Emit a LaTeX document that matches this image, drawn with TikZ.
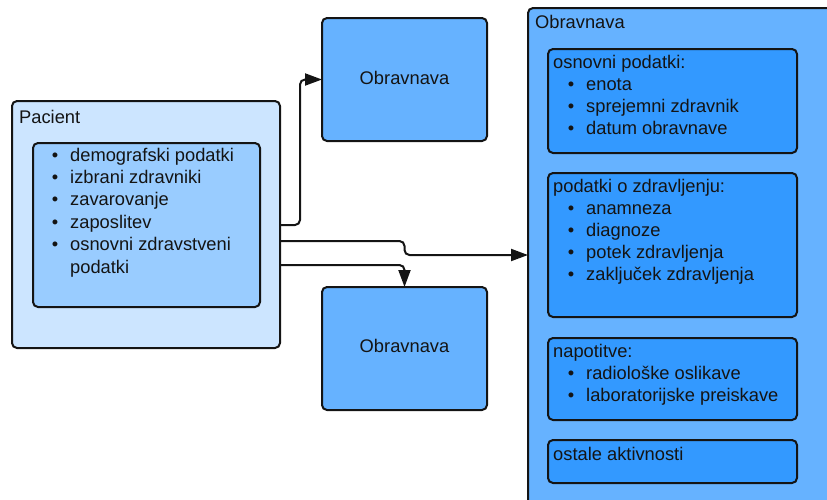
\documentclass[tikz,border=0pt]{standalone}
\usepackage{fontspec}
\setmainfont{Liberation Sans}
\usetikzlibrary{arrows.meta,calc}
\definecolor{paleblue}{HTML}{CCE5FF}
\definecolor{lightblue}{HTML}{99CCFF}
\definecolor{midblue}{HTML}{66B2FF}
\definecolor{deepblue}{HTML}{3399FF}
\definecolor{edge}{HTML}{141414}
\begin{document}
\begin{tikzpicture}[x=1pt,y=-1pt,
  box/.style={draw=edge, line width=2pt, rounded corners=5pt, anchor=north west,
    inner sep=0pt, outer sep=0pt},
  txt/.style={anchor=base west, inner sep=0pt, text=edge,
    font=\fontsize{18.3}{22}\selectfont},
  bul/.style={txt, anchor=base},
  conn/.style={draw=edge, line width=2pt, rounded corners=5pt,
    -{Triangle[length=17pt,width=12pt]}}
]
\useasboundingbox (0,0) rectangle (827,499);
\clip (0,0) rectangle (827,499);

% Pacient
\node[box, fill=paleblue, minimum width=268pt, minimum height=247pt] (pacient) at (12,101) {};
\node[txt] (lpac) at (19,123) {Pacient};
\node[box, fill=lightblue, minimum width=227pt, minimum height=164pt] (pdata) at (33,143) {};
\foreach \t [count=\i] in {demografski podatki, izbrani zdravniki, zavarovanje,
    zaposlitev, osnovni zdravstveni}{
  \node[bul] (pb\i) at (55,161+22.4*\i-22.4) {\textbullet};
  \node[txt] (pt\i) at (70,161+22.4*\i-22.4) {\t};
}
\node[txt] (pt6) at (70,273) {podatki};

% Two single treatments
\node[box, fill=midblue, minimum width=165pt, minimum height=123pt] (obtop) at (322,18) {};
\node[txt, anchor=base] (lobtop) at (404.5,84) {Obravnava};
\node[box, fill=midblue, minimum width=165pt, minimum height=123pt] (obbot) at (322,287) {};
\node[txt, anchor=base] (lobbot) at (404.5,352.5) {Obravnava};

% Detailed treatment
\node[box, fill=midblue, minimum width=330pt, minimum height=520pt] (obr) at (528,8) {};
\node[txt] (lobr) at (535,28) {Obravnava};

\node[box, fill=deepblue, minimum width=249pt, minimum height=104pt] (basic) at (548,49) {};
\node[txt] (hbasic) at (553,68) {osnovni podatki:};
\foreach \t [count=\i] in {enota, sprejemni zdravnik, datum obravnave}{
  \node[bul] (bb\i) at (571,68+22.2*\i) {\textbullet};
  \node[txt] (bt\i) at (586,68+22.2*\i) {\t};
}

\node[box, fill=deepblue, minimum width=249pt, minimum height=144pt] (health) at (548,173) {};
\node[txt] (hhealth) at (553,192) {podatki o zdravljenju:};
\foreach \t [count=\i] in {anamneza, diagnoze, potek zdravljenja, zaključek zdravljenja}{
  \node[bul] (hb\i) at (571,192+22.2*\i) {\textbullet};
  \node[txt] (ht\i) at (586,192+22.2*\i) {\t};
}

\node[box, fill=deepblue, minimum width=249pt, minimum height=82pt] (ref) at (548,338) {};
\node[txt] (href) at (553,357.5) {napotitve:};
\foreach \t [count=\i] in {radiološke oslikave, laboratorijske preiskave}{
  \node[bul] (rb\i) at (571,357.5+22.2*\i) {\textbullet};
  \node[txt] (rt\i) at (586,357.5+22.2*\i) {\t};
}

\node[box, fill=deepblue, minimum width=249pt, minimum height=43pt] (other) at (548,440) {};
\node[txt] (hother) at (553,460) {ostale aktivnosti};

% Connectors
\coordinate (s1) at ($(pacient.north east)+(0,124)$);
\coordinate (s2) at ($(pacient.north east)+(0,140)$);
\coordinate (s3) at ($(pacient.north east)+(0,164)$);
\coordinate (k2) at (obbot.north |- s2);
\draw[conn] (s1) -- ++(20,0) |- (obtop.west);
\draw[conn] (s2) -- (k2) -- ($(k2)+(0,14)$) -- ($(obr.north west)+(0,247)$);
\draw[conn] (s3) -| (obbot.north);
\end{tikzpicture}
\end{document}
